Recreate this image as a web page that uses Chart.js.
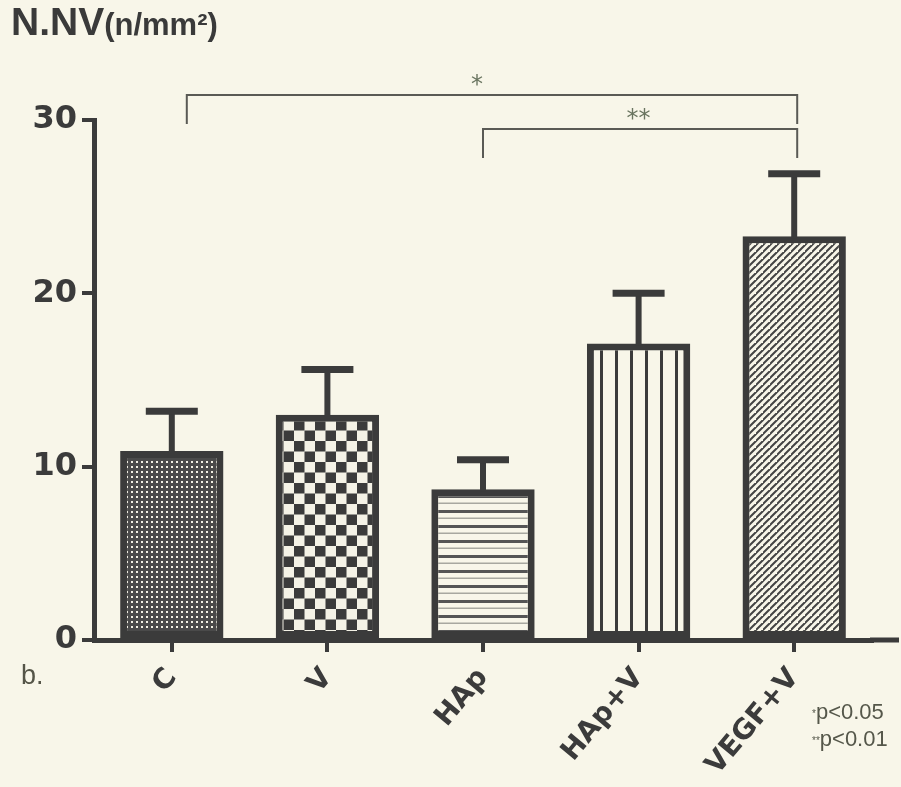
<!DOCTYPE html>
<html>
<head>
<meta charset="utf-8">
<script src="https://cdn.jsdelivr.net/npm/chart.js@4.4.1/dist/chart.umd.min.js"></script>
<style>
  html, body { margin: 0; padding: 0; background: #f8f6e9; }
  #wrap { position: relative; width: 901px; height: 787px; overflow: hidden; }
  canvas { position: absolute; left: 0; top: 0; }
  .title { position: absolute; left: 11px; top: 0px; color: #3a3a3a; font-family: "Liberation Sans", Arial, sans-serif; font-weight: bold; white-space: nowrap; }
  .title .big { font-size: 39px; }
  .title .small { font-size: 31px; }
  .blabel { position: absolute; left: 21px; top: 660px; font-family: "Liberation Sans", Arial, sans-serif; font-size: 27px; color: #555548; }
  .pnote { position: absolute; left: 812px; font-family: "Liberation Sans Narrow", "Liberation Sans", sans-serif; font-size: 22px; color: #55574a; white-space: nowrap; }
  .pnote .st { font-size: 10px; vertical-align: middle; }
</style>
</head>
<body>
<div id="wrap">
  <canvas id="c" width="901" height="787"></canvas>
  <div class="title"><span class="big">N.NV</span><span class="small">(n/mm²)</span></div>
  <div class="blabel">b.</div>
  <div class="pnote" style="top:699px"><span class="st">*</span>p&lt;0.05</div>
  <div class="pnote" style="top:726px"><span class="st">**</span>p&lt;0.01</div>
</div>
<script>
const categories = ["C", "V", "HAp", "HAp+V", "VEGF+V"];
const meanValues = [10.9, 13.0, 8.7, 17.1, 23.3];
const errorTops = [13.2, 15.6, 10.4, 20.0, 26.9];
const yTicks = [0, 10, 20, 30];
const sigBrackets = [
  { from: 0, to: 4, label: "*" },
  { from: 2, to: 4, label: "**" }
];

const INK = "#3b3b3b";
const BG = "#f8f6e9";

function makeTile(w, h, draw) {
  const c = document.createElement("canvas");
  c.width = w; c.height = h;
  const g = c.getContext("2d");
  draw(g, w, h);
  return document.getElementById("c").getContext("2d").createPattern(c, "repeat");
}
const patterns = [
  // fine dot screen
  makeTile(5, 5, (g, w, h) => {
    g.fillStyle = "#4a4a4a"; g.fillRect(0, 0, w, h);
    g.fillStyle = "#f2f0e4"; g.fillRect(1, 1, 2, 2);
  }),
  // checkerboard
  makeTile(21, 21, (g, w, h) => {
    g.fillStyle = "#f4f2e6"; g.fillRect(0, 0, w, h);
    g.fillStyle = INK; g.fillRect(0, 0, 10.5, 10.5); g.fillRect(10.5, 10.5, 10.5, 10.5);
  }),
  // horizontal lines
  makeTile(8, 15, (g, w, h) => {
    g.fillStyle = BG; g.fillRect(0, 0, w, h);
    g.fillStyle = "#555"; g.fillRect(0, 0, w, 3);
    g.fillStyle = "#a8a8a0"; g.fillRect(0, 7.5, w, 1.5);
  }),
  // vertical lines
  makeTile(15.6, 8, (g, w, h) => {
    g.fillStyle = BG; g.fillRect(0, 0, 16, h);
    g.fillStyle = INK; g.fillRect(0, 0, 3, h);
  }),
  // diagonal lines "/"
  makeTile(7, 7, (g, w, h) => {
    g.fillStyle = BG; g.fillRect(0, 0, w, h);
    g.strokeStyle = "#444"; g.lineWidth = 2;
    g.beginPath();
    g.moveTo(-1, h + 1); g.lineTo(w + 1, -1);
    g.moveTo(-1 - w, h + 1); g.lineTo(1, -1);
    g.moveTo(w - 1, 2 * h + 1); g.lineTo(2 * w + 1, h - 1);
    g.stroke();
  })
];

const extras = {
  id: "extras",
  afterDatasetsDraw(chart) {
    const ctx = chart.ctx;
    const x = chart.scales.x, y = chart.scales.y;
    ctx.save();
    ctx.strokeStyle = INK;
    ctx.lineCap = "butt";
    // error bars
    errorTops.forEach((v, i) => {
      const cx = x.getPixelForValue(i);
      ctx.lineWidth = 6;
      ctx.beginPath();
      ctx.moveTo(cx, y.getPixelForValue(meanValues[i]) + 2);
      ctx.lineTo(cx, y.getPixelForValue(v));
      ctx.stroke();
      ctx.lineWidth = 7;
      ctx.beginPath();
      ctx.moveTo(cx - 26, y.getPixelForValue(v));
      ctx.lineTo(cx + 26, y.getPixelForValue(v));
      ctx.stroke();
    });
    // extend x axis line to the right
    ctx.lineWidth = 5;
    ctx.beginPath();
    ctx.moveTo(chart.chartArea.right - 2, y.getPixelForValue(0));
    ctx.lineTo(899, y.getPixelForValue(0));
    ctx.stroke();
    // significance brackets
    ctx.strokeStyle = "#5a5a55";
    ctx.lineWidth = 2;
    ctx.fillStyle = "#6a7560";
    ctx.font = "24px 'DejaVu Sans', sans-serif";
    ctx.textAlign = "center";
    ctx.textBaseline = "middle";
    const rows = [{ top: 95, bottom: 124 }, { top: 129, bottom: 158 }];
    sigBrackets.forEach((b, k) => {
      const x1 = x.getPixelForValue(b.from) + (k === 0 ? 15 : 0);
      const x2 = x.getPixelForValue(b.to) + 3;
      const r = rows[k];
      ctx.beginPath();
      ctx.moveTo(x1, r.bottom);
      ctx.lineTo(x1, r.top);
      ctx.lineTo(x2, r.top);
      ctx.lineTo(x2, r.bottom);
      ctx.stroke();
      ctx.fillText(b.label, (k === 0 ? 477 : x.getPixelForValue(3)), r.top - 9);
    });
    ctx.restore();
  }
};

new Chart(document.getElementById("c"), {
  type: "bar",
  data: {
    labels: categories,
    datasets: [{
      data: meanValues,
      backgroundColor: patterns,
      borderColor: INK,
      borderWidth: 7,
      borderSkipped: false,
      barPercentage: 0.82,
      categoryPercentage: 0.81
    }]
  },
  options: {
    responsive: false,
    animation: false,
    devicePixelRatio: 1,
    layout: { padding: { top: 120, right: 29, left: 0, bottom: 0 } },
    plugins: { legend: { display: false }, tooltip: { enabled: false } },
    scales: {
      x: {
        afterFit(s) { s.height = 147; },
        grid: { display: true, drawOnChartArea: false, offset: false, tickLength: 12, lineWidth: 4, color: INK },
        border: { display: true, color: INK, width: 5 },
        ticks: {
          color: INK,
          font: { family: "'DejaVu Sans', sans-serif", weight: "bold", size: 28 },
          maxRotation: 50, minRotation: 50, padding: 10
        }
      },
      y: {
        min: 0, max: 30,
        afterFit(s) { s.width = 94; },
        afterBuildTicks(s) { s.ticks = yTicks.map(v => ({ value: v })); },
        grid: { display: true, drawOnChartArea: false, tickLength: 12, lineWidth: 4, color: INK },
        border: { display: true, color: INK, width: 5 },
        ticks: {
          color: INK,
          font: { family: "'DejaVu Sans', sans-serif", weight: "bold", size: 32 },
          padding: 5
        }
      }
    }
  },
  plugins: [extras]
});
</script>
</body>
</html>
